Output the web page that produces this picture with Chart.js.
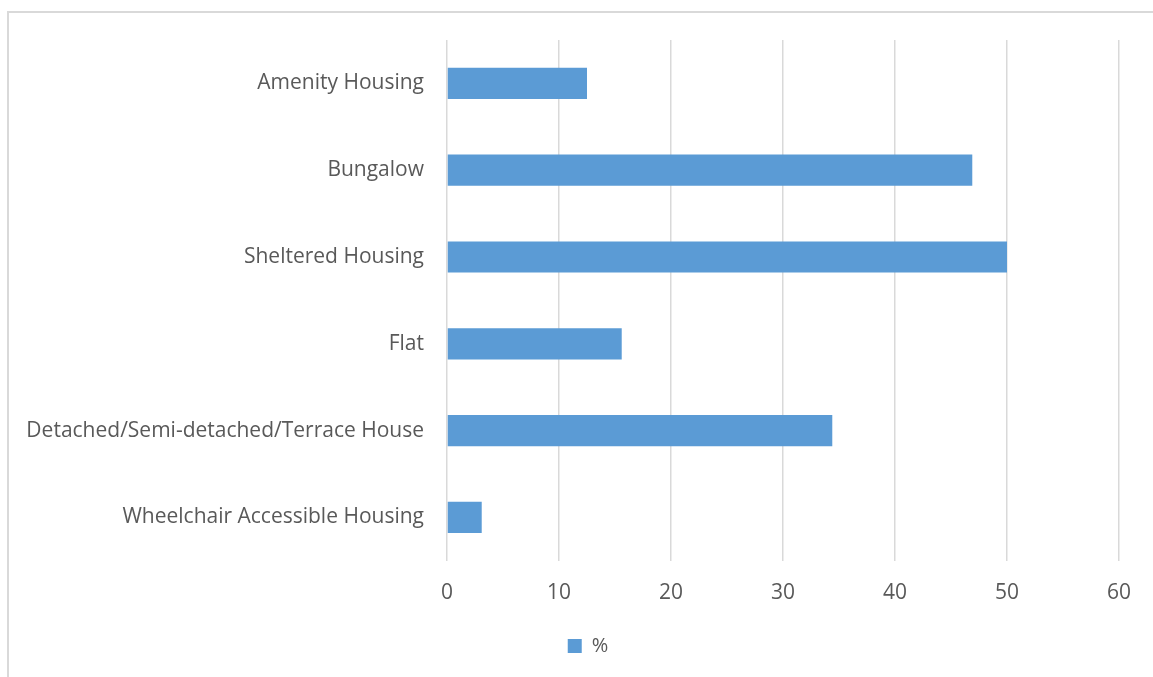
<!DOCTYPE html>
<html>
<head>
<meta charset="utf-8">
<script src="https://cdn.jsdelivr.net/npm/chart.js@4"></script>
<style>
  html, body { margin: 0; padding: 0; background: #fff; }
  #wrap { position: relative; width: 1153px; height: 677px; overflow: hidden; }
  #frame { position: absolute; left: 7px; top: 11px; width: 1200px; height: 700px;
           border-left: 2px solid #d9d9d9; border-top: 2px solid #d9d9d9; }
  canvas { position: absolute; left: 0; top: 0; }
</style>
</head>
<body>
<div id="wrap">
  <div id="frame"></div>
  <canvas id="myChart1" width="1153" height="677"></canvas>
</div>
<script>
// housing types, top to bottom
var categories = ['Amenity Housing', 'Bungalow', 'Sheltered Housing', 'Flat',
  'Detached/Semi-detached/Terrace House', 'Wheelchair Accessible Housing'];
var percentValues = [12.5, 46.9, 50.0, 15.6, 34.4, 3.1];
var xTicks = [0, 10, 20, 30, 40, 50, 60];

var textColor = '#595959';
var gridColor = '#d9d9d9';

// nudge the legend box so the key sits a bit right of the canvas centre
var legendShift = {
  id: 'legendShift',
  afterLayout: function (chart) {
    if (chart.legend) chart.legend.left += 57;
  }
};

var ctx = document.getElementById("myChart1").getContext('2d');
new Chart(ctx, {
  type: 'bar',
  data: {
    labels: categories,
    datasets: [{
      label: '%',
      data: percentValues,
      backgroundColor: '#5b9bd5',
      borderWidth: 0,
      categoryPercentage: 1.0,
      barPercentage: 0.36
    }]
  },
  options: {
    indexAxis: 'y',
    responsive: false,
    animation: false,
    layout: { padding: { top: 40, right: 34, left: 0, bottom: 11 } },
    scales: {
      x: {
        min: 0,
        max: 60,
        afterBuildTicks: function (scale) {
          scale.ticks = xTicks.map(function (v) { return { value: v }; });
        },
        grid: { color: gridColor, lineWidth: 1.5, drawTicks: false },
        border: { display: false },
        ticks: { color: textColor, padding: 20, font: { family: 'Open Sans', size: 21 } }
      },
      y: {
        grid: { display: false, drawTicks: false },
        border: { display: false },
        ticks: { color: textColor, padding: 23, font: { family: 'Open Sans', size: 21 } },
        afterFit: function (scale) { scale.width = 447; }
      }
    },
    plugins: {
      legend: {
        position: 'bottom',
        labels: {
          color: textColor,
          boxWidth: 14,
          boxHeight: 14,
          padding: 10,
          font: { family: 'Open Sans', size: 20 }
        }
      },
      tooltip: { enabled: false }
    }
  },
  plugins: [legendShift]
});
</script>
</body>
</html>
